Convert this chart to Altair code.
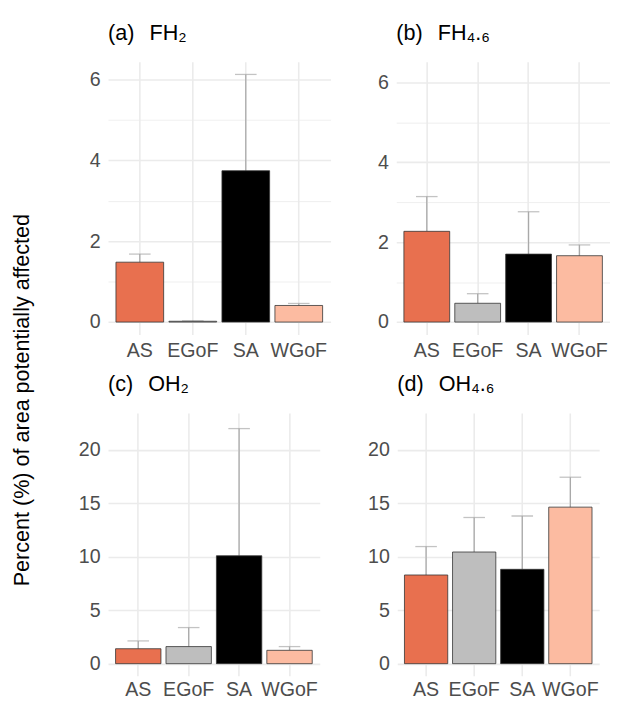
import altair as alt
import pandas as pd

regions = ["AS", "EGoF", "SA", "WGoF"]
colors = ["#E8704F", "#BEBEBE", "#000000", "#FCBBA1"]

fh2_mean = [1.48, 0.02, 3.74, 0.41]
fh2_upper = [1.68, 0.03, 6.12, 0.46]
fh46_mean = [2.27, 0.47, 1.70, 1.66]
fh46_upper = [3.14, 0.71, 2.76, 1.93]
oh2_mean = [1.40, 1.60, 10.10, 1.25]
oh2_upper = [2.13, 3.38, 22.0, 1.60]
oh46_mean = [8.30, 10.45, 8.83, 14.65]
oh46_upper = [10.96, 13.68, 13.82, 17.45]

GAP = "\u2002\u2009"
titles = ["(a)" + GAP + "FH\u2082", "(b)" + GAP + "FH\u2084.\u2086",
          "(c)" + GAP + "OH\u2082", "(d)" + GAP + "OH\u2084.\u2086"]
y_title = "Percent (%) of area potentially affected"

FONT = "Liberation Sans"
GRID = "#EBEBEB"
ERR = "#A9A9A9"


def panel(title, mean, upper, domain, major, minor, min_ext, width, height, lab_pad):
    df = pd.DataFrame({"region": regions, "mean": mean, "upper": upper})
    ticks = sorted(major + minor)
    major_str = "[" + ",".join(str(v) for v in major) + "]"
    test = "indexof(" + major_str + ", datum.value) >= 0"
    x = alt.X(
        "region:N", sort=regions, title=None,
        scale=alt.Scale(paddingInner=0.1, paddingOuter=0.15),
        axis=alt.Axis(labelAngle=0, labelFontSize=20, labelColor="#4D4D4D",
                      labelFont=FONT, ticks=False, domain=False, grid=True,
                      gridColor=GRID, gridWidth=1.6, labelPadding=lab_pad),
    )
    y = alt.Y(
        "mean:Q", title=None,
        scale=alt.Scale(domain=domain, nice=False, zero=False),
        axis=alt.Axis(values=ticks,
                      labelExpr=test + " ? datum.label : ''",
                      labelFontSize=20, labelColor="#4D4D4D", labelFont=FONT,
                      ticks=False, domain=False, grid=True, gridColor=GRID,
                      gridWidth={"condition": {"test": test, "value": 1.6}, "value": 0.8},
                      labelPadding=8, minExtent=min_ext),
    )
    base = alt.Chart(df)
    rule = base.mark_rule(color=ERR, strokeWidth=1.3).encode(x=x, y=y, y2="upper:Q")
    cap = base.mark_tick(color=ERR, size=22, thickness=1.3).encode(x="region:N", y="upper:Q")
    bar = base.mark_bar(stroke="#333333", strokeWidth=0.8).encode(
        x="region:N", y="mean:Q",
        color=alt.Color("region:N", scale=alt.Scale(domain=regions, range=colors), legend=None),
    )
    return alt.layer(rule, cap, bar).properties(
        width=width, height=height,
        title=alt.TitleParams(title, anchor="start", frame="group", fontSize=22,
                              font=FONT, fontWeight="normal", color="#000000",
                              baseline="alphabetic", offset=0),
    )


pa = panel(titles[0], fh2_mean, fh2_upper, [-0.306, 6.43], [0, 2, 4, 6], [1, 3, 5], 64, 227, 278, 7)
pb = panel(titles[1], fh46_mean, fh46_upper, [-0.31, 6.51], [0, 2, 4, 6], [1, 3, 5], 30, 218, 278, 7)
pc = panel(titles[2], oh2_mean, oh2_upper, [-1.12, 23.47], [0, 5, 10, 15, 20], [2.5, 7.5, 12.5, 17.5, 22.5], 76, 216, 268, 4)
pd_ = panel(titles[3], oh46_mean, oh46_upper, [-1.12, 23.47], [0, 5, 10, 15, 20], [2.5, 7.5, 12.5, 17.5, 22.5], 30, 206, 268, 4)

row1 = alt.hconcat(pa, pb, spacing=37)
row2 = alt.hconcat(pc, pd_, spacing=48)
grid = alt.vconcat(row1, row2, spacing=13)

ylab = alt.Chart(pd.DataFrame({"t": [y_title]})).mark_text(
    angle=270, fontSize=22, font=FONT, color="#000000", align="center", baseline="middle"
).encode(text="t:N", x=alt.value(14), y=alt.value(345)).properties(width=26, height=600)

chart = alt.hconcat(ylab, grid, spacing=0).properties(
    padding={"left": 0, "top": 8, "right": 0, "bottom": 0}
).configure_view(stroke=None)

chart.save("out.html", embed_options={"renderer": "svg", "actions": False})
